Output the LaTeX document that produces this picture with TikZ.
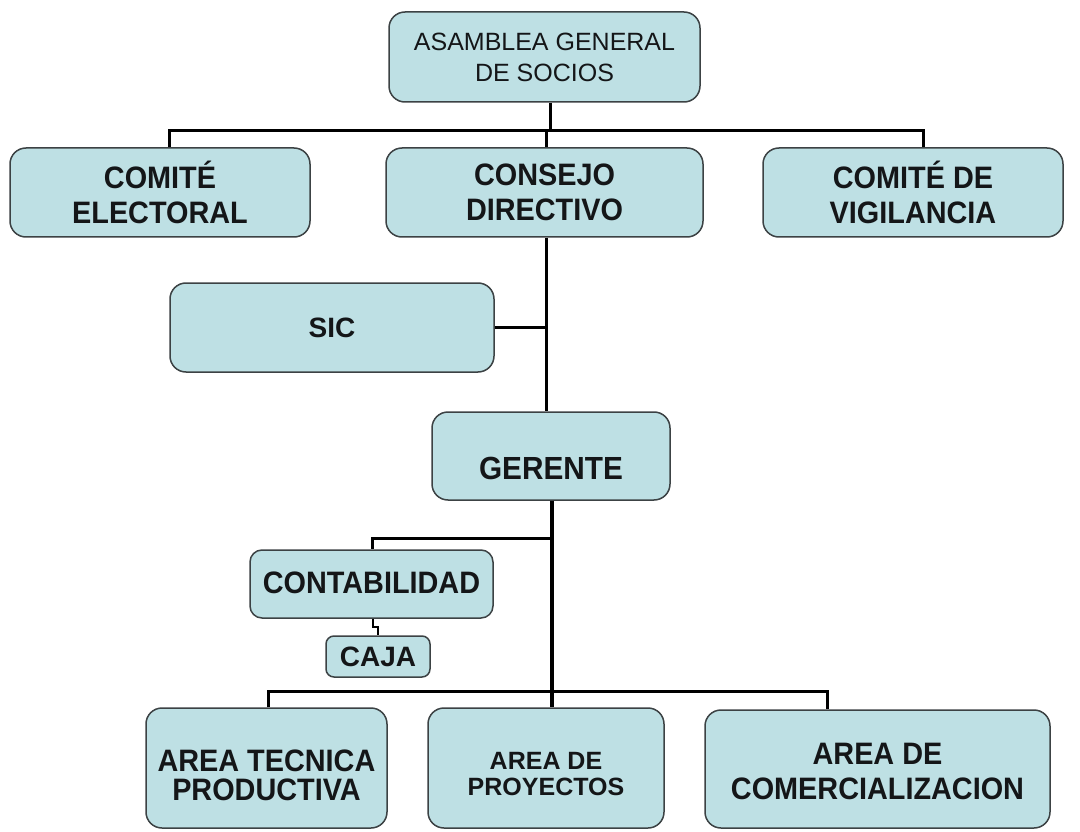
\documentclass[tikz,border=0pt]{standalone}
\usepackage{fontspec}
\setmainfont{Liberation Sans}
\newfontfamily\narrowsans[FakeStretch=0.93]{Liberation Sans}
\definecolor{boxfill}{RGB}{190,224,228}
\definecolor{boxline}{RGB}{60,66,68}
\definecolor{txt}{RGB}{20,22,24}
\begin{document}
\begin{tikzpicture}[x=1pt,y=-1pt,
  orgbox/.style={draw=boxline, line width=1.5pt, fill=boxfill, rounded corners=16pt, inner sep=0pt},
  lbl/.style={align=center, inner sep=0pt, text=txt, font=\fontsize{31}{35}\narrowsans\bfseries},
  conn/.style={line width=3pt, black},
  thickconn/.style={line width=4.5pt, black}]
\useasboundingbox (0,0) rectangle (1080,832);
\fill[white] (0,0) rectangle (1080,832);

% boxes
\node[orgbox, minimum width=311pt, minimum height=90pt] (asam) at (544.5,57) {};
\node[orgbox, minimum width=300pt, minimum height=89pt] (celec) at (160,192.5) {};
\node[orgbox, minimum width=317pt, minimum height=89pt] (cdir) at (544.5,192.5) {};
\node[orgbox, minimum width=300pt, minimum height=89pt] (cvig) at (913,192.5) {};
\node[orgbox, minimum width=324pt, minimum height=89pt] (sic) at (332,327.5) {};
\node[orgbox, minimum width=238pt, minimum height=88pt] (ger) at (551,456) {};
\node[orgbox, minimum width=243pt, minimum height=68pt, rounded corners=12pt] (cont) at (371.5,584) {};
\node[orgbox, minimum width=104pt, minimum height=41pt, rounded corners=8pt] (caja) at (378,656.5) {};
\node[orgbox, minimum width=241pt, minimum height=120pt] (atec) at (266.5,768) {};
\node[orgbox, minimum width=236pt, minimum height=120pt] (aproy) at (546,768) {};
\node[orgbox, minimum width=345pt, minimum height=118pt] (acom) at (877.5,769) {};

% labels
\node[lbl, font=\fontsize{25}{31}\selectfont] (asam-t) at (asam.center) {ASAMBLEA GENERAL\\DE SOCIOS};
\node[lbl] (celec-t) at (celec.center) {COMITÉ\\ELECTORAL};
\node[lbl] (cdir-t) at (cdir.center) {CONSEJO\\DIRECTIVO};
\node[lbl] (cvig-t) at (cvig.center) {COMITÉ DE\\VIGILANCIA};
\node[lbl, font=\fontsize{28}{32}\selectfont\bfseries] (sic-t) at (sic.center) {SIC};
\node[lbl, font=\fontsize{32}{36}\narrowsans\bfseries] (ger-t) at ([yshift=-12pt]ger.center) {GERENTE};
\node[lbl] (cont-t) at ([yshift=1.5pt]cont.center) {CONTABILIDAD};
\node[lbl, font=\fontsize{28}{32}\selectfont\bfseries] (caja-t) at (caja.center) {CAJA};
\node[lbl, font=\fontsize{31}{29}\narrowsans\bfseries] (atec-t) at ([yshift=-7pt]atec.center) {AREA TECNICA\\PRODUCTIVA};
\node[lbl, font=\fontsize{25}{26}\selectfont\bfseries] (aproy-t) at ([yshift=-6pt]aproy.center) {AREA DE\\PROYECTOS};
\node[lbl] (acom-t) at ([yshift=-2pt]acom.center) {AREA DE\\COMERCIALIZACION};

% connectors
\coordinate (top) at (550,131);
\coordinate (h1) at (169,131);
\coordinate (h2) at (923,131);
\coordinate (hc) at (546,131);
\draw[conn] (top |- asam.south) -- (top);
\draw[conn] (h1 |- celec.north) -- (h1) -- (h2) -- (h2 |- cvig.north);
\draw[conn] (hc) -- (hc |- cdir.north);
\draw[conn] (hc |- cdir.south) -- (hc |- ger.north);
\draw[conn] (sic.east) -- (sic.east -| hc);

\coordinate (g2) at (552,691);
\coordinate (c1) at (372,538);
\draw[thickconn] (g2 |- ger.south) -- (g2);
\draw[conn] (c1 -| g2) -- (c1) -- (c1 |- cont.north);
\coordinate (j1) at (373,627);
\coordinate (j2) at (378,627);
\draw[conn, line width=2.5pt] (j1 |- cont.south) -- (j1) -- (j2) -- (j2 |- caja.north);

\coordinate (b1) at (268,691);
\coordinate (b2) at (827,691);
\draw[conn] (b1 |- atec.north) -- (b1) -- (b2) -- (b2 |- acom.north);
\draw[thickconn] (g2) -- (g2 |- aproy.north);
\end{tikzpicture}
\end{document}
